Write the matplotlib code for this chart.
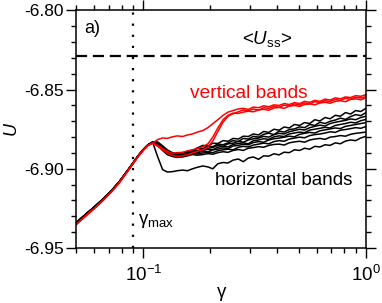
import matplotlib
matplotlib.use('Agg')
import matplotlib.pyplot as plt
from matplotlib.ticker import MultipleLocator, FormatStrFormatter

# ---------------- data ----------------
gamma_pre = [0.050, 0.055, 0.060, 0.066, 0.072, 0.078, 0.084, 0.090, 0.095, 0.100, 0.105, 0.110]
gamma_post = [0.116, 0.122, 0.128, 0.135, 0.142, 0.150, 0.158, 0.166, 0.175, 0.185,
              0.195, 0.205, 0.216, 0.228, 0.240, 0.253, 0.267, 0.281, 0.296, 0.312,
              0.329, 0.347, 0.366, 0.386, 0.407, 0.429, 0.452, 0.477, 0.503, 0.530,
              0.559, 0.589, 0.621, 0.655, 0.690, 0.728, 0.767, 0.809, 0.853, 0.899,
              0.948, 1.000]

U_pre_black = [-6.9340, -6.9288, -6.9243, -6.9190, -6.9137, -6.9081, -6.9020, -6.8962,
               -6.8916, -6.8878, -6.8848, -6.8832]
U_pre_red = [-6.9350, -6.9298, -6.9252, -6.9198, -6.9144, -6.9087, -6.9025, -6.8966,
             -6.8920, -6.8882, -6.8852, -6.8838]

# horizontal bands (black)
B0 = [-6.8925, -6.9005, -6.9020, -6.9018, -6.9012, -6.9008, -6.9012, -6.9000,
      -6.8990, -6.8982, -6.8988, -6.9000, -6.8968, -6.8960, -6.8963, -6.8945, -6.8938, -6.8955,
      -6.8932, -6.8925, -6.8940, -6.8918, -6.8920, -6.8905, -6.8912, -6.8895, -6.8898, -6.8880,
      -6.8884, -6.8870, -6.8876, -6.8858, -6.8862, -6.8848, -6.8852, -6.8836, -6.8842, -6.8825,
      -6.8818, -6.8822, -6.8805, -6.8795]
B1 = [-6.8835, -6.8862, -6.8890, -6.8905, -6.8902, -6.8898, -6.8890, -6.8885,
      -6.8868, -6.8852, -6.8856, -6.8838, -6.8840, -6.8822, -6.8826, -6.8808, -6.8812, -6.8794,
      -6.8796, -6.8780, -6.8786, -6.8764, -6.8770, -6.8750, -6.8756, -6.8736, -6.8742, -6.8720,
      -6.8726, -6.8708, -6.8714, -6.8690, -6.8698, -6.8676, -6.8684, -6.8662, -6.8668, -6.8645,
      -6.8654, -6.8632, -6.8638, -6.8618]
B2 = [-6.8830, -6.8855, -6.8880, -6.8898, -6.8908, -6.8900, -6.8895, -6.8890,
      -6.8870, -6.8872, -6.8856, -6.8860, -6.8843, -6.8848, -6.8836, -6.8822, -6.8828, -6.8808,
      -6.8812, -6.8795, -6.8800, -6.8782, -6.8775, -6.8784, -6.8762, -6.8768, -6.8752, -6.8748,
      -6.8735, -6.8740, -6.8720, -6.8726, -6.8706, -6.8714, -6.8700, -6.8692, -6.8680, -6.8688,
      -6.8670, -6.8658, -6.8664, -6.8645]
B3 = [-6.8840, -6.8870, -6.8895, -6.8910, -6.8912, -6.8905, -6.8900, -6.8892,
      -6.8885, -6.8876, -6.8870, -6.8866, -6.8852, -6.8858, -6.8842, -6.8838, -6.8826, -6.8832,
      -6.8818, -6.8810, -6.8806, -6.8795, -6.8800, -6.8784, -6.8776, -6.8780, -6.8766, -6.8758,
      -6.8750, -6.8755, -6.8740, -6.8732, -6.8724, -6.8730, -6.8714, -6.8706, -6.8700, -6.8694,
      -6.8685, -6.8690, -6.8676, -6.8668]
B4 = [-6.8838, -6.8866, -6.8900, -6.8915, -6.8918, -6.8910, -6.8903, -6.8898,
      -6.8895, -6.8882, -6.8878, -6.8880, -6.8864, -6.8858, -6.8862, -6.8846, -6.8840, -6.8836,
      -6.8842, -6.8822, -6.8818, -6.8810, -6.8814, -6.8798, -6.8792, -6.8796, -6.8780, -6.8774,
      -6.8768, -6.8772, -6.8755, -6.8750, -6.8744, -6.8738, -6.8742, -6.8726, -6.8720, -6.8714,
      -6.8706, -6.8710, -6.8696, -6.8688]
B5 = [-6.8845, -6.8878, -6.8905, -6.8918, -6.8915, -6.8920, -6.8908, -6.8900,
      -6.8898, -6.8890, -6.8894, -6.8880, -6.8876, -6.8868, -6.8872, -6.8856, -6.8852, -6.8845,
      -6.8848, -6.8834, -6.8828, -6.8832, -6.8818, -6.8810, -6.8806, -6.8800, -6.8794, -6.8798,
      -6.8782, -6.8776, -6.8770, -6.8774, -6.8760, -6.8754, -6.8748, -6.8742, -6.8746, -6.8732,
      -6.8726, -6.8720, -6.8714, -6.8708]
B6 = [-6.8850, -6.8885, -6.8910, -6.8922, -6.8925, -6.8915, -6.8912, -6.8905,
      -6.8906, -6.8900, -6.8895, -6.8898, -6.8886, -6.8880, -6.8876, -6.8880, -6.8864, -6.8858,
      -6.8862, -6.8850, -6.8844, -6.8838, -6.8842, -6.8828, -6.8822, -6.8826, -6.8812, -6.8806,
      -6.8800, -6.8804, -6.8790, -6.8784, -6.8780, -6.8774, -6.8766, -6.8770, -6.8756, -6.8752,
      -6.8746, -6.8740, -6.8744, -6.8733]
B7 = [-6.8842, -6.8875, -6.8902, -6.8920, -6.8928, -6.8925, -6.8918, -6.8910,
      -6.8914, -6.8910, -6.8904, -6.8908, -6.8898, -6.8892, -6.8896, -6.8884, -6.8878, -6.8884,
      -6.8870, -6.8866, -6.8860, -6.8864, -6.8852, -6.8846, -6.8844, -6.8850, -6.8836, -6.8830,
      -6.8826, -6.8832, -6.8818, -6.8812, -6.8808, -6.8814, -6.8800, -6.8796, -6.8790, -6.8794,
      -6.8782, -6.8776, -6.8772, -6.8768]

# vertical bands (red)
R1 = [-6.8815, -6.8805, -6.8808, -6.8798, -6.8792, -6.8796, -6.8786, -6.8780,
      -6.8768, -6.8758, -6.8740, -6.8715, -6.8690, -6.8662, -6.8642, -6.8632,
      -6.8622, -6.8618, -6.8625, -6.8610, -6.8614, -6.8602, -6.8608, -6.8596, -6.8600, -6.8588,
      -6.8594, -6.8582, -6.8588, -6.8574, -6.8580, -6.8568, -6.8574, -6.8560, -6.8566, -6.8552,
      -6.8558, -6.8546, -6.8550, -6.8538, -6.8542, -6.8532]
R2 = [-6.8858, -6.8882, -6.8902, -6.8915, -6.8922, -6.8918, -6.8910, -6.8900,
      -6.8890, -6.8880, -6.8862, -6.8825, -6.8765, -6.8705, -6.8668, -6.8652,
      -6.8640, -6.8628, -6.8634, -6.8622, -6.8630, -6.8614, -6.8618, -6.8606, -6.8612, -6.8598,
      -6.8604, -6.8590, -6.8596, -6.8584, -6.8590, -6.8576, -6.8582, -6.8570, -6.8574, -6.8562,
      -6.8568, -6.8555, -6.8560, -6.8548, -6.8552, -6.8545]
R3 = [-6.8852, -6.8872, -6.8890, -6.8902, -6.8898, -6.8896, -6.8886, -6.8880,
      -6.8872, -6.8860, -6.8842, -6.8800, -6.8742, -6.8690, -6.8662, -6.8648,
      -6.8650, -6.8642, -6.8636, -6.8640, -6.8628, -6.8624, -6.8630, -6.8616, -6.8612, -6.8618,
      -6.8604, -6.8600, -6.8606, -6.8594, -6.8590, -6.8596, -6.8584, -6.8580, -6.8586, -6.8574,
      -6.8570, -6.8576, -6.8562, -6.8558, -6.8564, -6.8552]

black_runs = [B0, B1, B2, B3, B4, B5, B6, B7]
red_runs = [R1, R2, R3]

U_ss = -6.829
gamma_max = 0.09

# ---------------- style ----------------
plt.rcParams['font.family'] = ['Liberation Sans', 'DejaVu Sans']
plt.rcParams['mathtext.fontset'] = 'custom'
plt.rcParams['mathtext.rm'] = 'Liberation Sans'
plt.rcParams['mathtext.it'] = 'Liberation Sans:italic'
plt.rcParams['axes.unicode_minus'] = False

fig = plt.figure(figsize=(3.82, 3.03), dpi=100)
ax = fig.add_axes([0.200, 0.1815, 0.758, 0.784])

gamma_all = gamma_pre + gamma_post
for run in black_runs:
    ax.plot(gamma_all, U_pre_black + run, color='black', lw=1.1)
for run in red_runs:
    ax.plot(gamma_all, U_pre_red + run, color='#ff0000', lw=1.1)

ax.axhline(U_ss, color='black', lw=1.6, linestyle=(0, (5, 2.6)))
ax.axvline(gamma_max, color='black', lw=1.6, linestyle=(0, (1, 4)), dash_capstyle='butt')

ax.set_xscale('log')
ax.set_xlim(0.05, 1.0)
ax.set_ylim(-6.95, -6.80)
ax.yaxis.set_major_locator(MultipleLocator(0.05))
ax.yaxis.set_minor_locator(MultipleLocator(0.01))
ax.yaxis.set_major_formatter(FormatStrFormatter('%.2f'))

for s in ax.spines.values():
    s.set_linewidth(1.1)
ax.tick_params(which='both', direction='out', top=True, right=True, width=1.0,
               labelsize=12.5, pad=2)
ax.tick_params(which='major', length=7)
ax.tick_params(which='minor', length=3.6)
ax.tick_params(axis='x', which='major', labelsize=13.5, pad=5)

ax.set_xlabel('γ', fontsize=13.5)
ax.set_ylabel('$U$', fontsize=13)
ax.xaxis.set_label_coords(0.5, -0.152)
ax.yaxis.set_label_coords(-0.19, 0.5)

ax.text(0.028, 0.905, 'a)', transform=ax.transAxes, fontsize=13, va='baseline', ha='left')
ax.text(0.66, 0.858, '<$U_{\\mathrm{ss}}$>', transform=ax.transAxes, fontsize=13.5,
        va='baseline', ha='center')
ax.text(0.392, 0.632, 'vertical bands', transform=ax.transAxes, fontsize=13.8,
        color='#ff0000', va='baseline', ha='left')
ax.text(0.478, 0.265, 'horizontal bands', transform=ax.transAxes, fontsize=13.5,
        va='baseline', ha='left')
ax.text(0.212, 0.101, 'γ$_{\\mathrm{max}}$', transform=ax.transAxes, fontsize=13.5,
        va='baseline', ha='left')

fig.savefig('out.png', dpi=100)
